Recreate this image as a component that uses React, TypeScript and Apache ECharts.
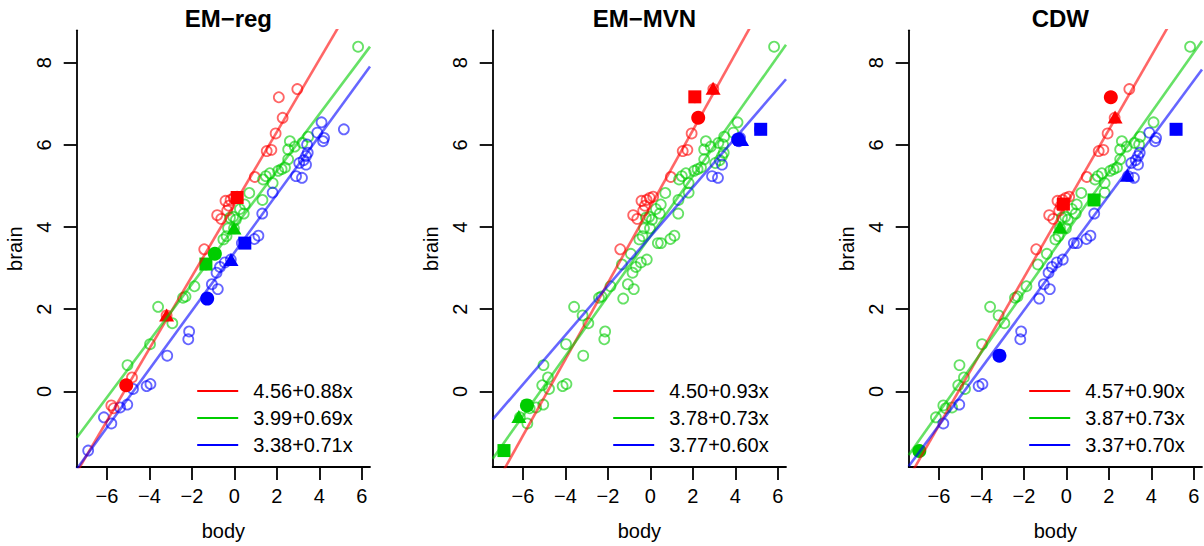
import React, { useEffect, useRef } from "react";
import * as echarts from "echarts";

// ---- data -----------------------------------------------------------
const bodyX = [
  -6.88, -6.14, -5.79, -5.79, -5.68, -5.38, -5.04, -5.09, -4.82, -4.77,
  -4.13, -3.95, -5.03, -3.16, -3.97, -2.17, -2.13, -2.92, -3.19, -3.59,
  -2.42, -2.3, -1.88,
  -1.28, -0.78, -1.06, -0.84, -0.68, -0.45, -1.34, -0.17, -0.92, -1.42, -0.37, -0.52, 0.35, 0.5, 0.94, 1.13,
  -0.81, -0.62, -0.42, -0.18, -0.03, 0.13, -0.26, -0.34,
  0.49, 0.26, 0.44, -0.06, 0.07, -0.21, -0.02, -0.3, 1.31, 1.8, 0.7, 1.32,
  1.35, 1.48, 1.67, 1.8, 2.06, 2.22, 2.38, 2.53, 2.53, 2.84, 3.2, 2.61, 3.47, 5.82,
  4.1, 5.15, 3.9, 4.22, 4.17, 3.42, 3.45, 3.37, 3.26, 3.05, 3.37, 2.9, 3.18,
  2.96, 2.09, 2.27, 1.94, 1.52, 1.74, 0.96,
];
const brainY = [
  -1.44, -0.63, -0.78, -0.34, -0.41, -0.39, -0.32, 0.15, 0.34, 0.06,
  0.13, 0.18, 0.64, 0.87, 1.15, 1.27, 1.46, 1.66, 1.85, 2.06,
  2.28, 2.31, 2.56,
  2.26, 2.49, 2.61, 2.89, 3.03, 3.14, 3.09, 3.21, 3.35, 3.46, 3.78, 3.7, 3.61, 3.61, 3.71, 3.79,
  4.29, 4.2, 4.64, 4.66, 4.71, 4.74, 4.52, 4.4,
  4.55, 4.44, 4.33, 4.25, 4.18, 4.23, 3.97, 3.97, 4.33, 4.84, 4.83, 4.66,
  5.16, 5.24, 5.31, 5.07, 5.37, 5.41, 5.45, 5.65, 5.89, 5.96, 6.05, 6.09, 6.2, 8.39,
  6.55, 6.38, 6.3, 6.17, 6.09, 6.01, 5.81, 5.73, 5.63, 5.56, 5.52, 5.24, 5.2,
  7.36, 7.16, 6.66, 6.28, 5.85, 5.88, 5.22,
];
// cluster of each point in each panel (r / g / b)
const groupEMreg = (
  "bbbrrbbrrb" + "bbgbgbbgrg" + "ggg" +
  "bbbbbbgbgrggbbbb" + "rrrrrrrr" + "ggggggggbbgg" +
  "gggggggggggggg" + "bbbbbbbbbbbbb" + "rrrrrrr"
).split("");
const groupEMMVN = (
  "gggggggggg" + "gggggggggg" + "ggg" +
  "gggggggggrgggggg" + "rrrrrrrr" + "gggggggggggg" +
  "gggggggggggggg" + "gbgbbgggggbbb" + "rrrrrrr"
).split("");
const groupCDW = (
  "ggbgggbggg" + "bbgbgbbggg" + "ggg" +
  "bbbbbbgbgrggbbbb" + "rrrrrrrr" + "ggggggggbggg" +
  "gggggggggggggg" + "gbbbbgbbbbbbb" + "rrrrrrr"
).split("");

// highlighted (filled) points: [x, y, group, shape]
const markersEMreg: [number, number, string, string][] = [
  [-3.19, 1.86, "r", "triangle"], [-0.02, 3.98, "g", "triangle"], [-0.16, 3.21, "b", "triangle"],
  [-5.09, 0.15, "r", "circle"], [-0.92, 3.35, "g", "circle"], [-1.28, 2.26, "b", "circle"],
  [0.13, 4.72, "r", "square"], [-1.34, 3.1, "g", "square"], [0.49, 3.61, "b", "square"],
];
const markersEMMVN: [number, number, string, string][] = [
  [2.95, 7.38, "r", "triangle"], [-6.19, -0.61, "g", "triangle"], [4.29, 6.13, "b", "triangle"],
  [2.25, 6.66, "r", "circle"], [-5.81, -0.34, "g", "circle"], [4.13, 6.13, "b", "circle"],
  [2.09, 7.17, "r", "square"], [-6.89, -1.44, "g", "square"], [5.19, 6.38, "b", "square"],
];
const markersCDW: [number, number, string, string][] = [
  [2.29, 6.68, "r", "triangle"], [-0.3, 4.0, "g", "triangle"], [2.87, 5.26, "b", "triangle"],
  [2.09, 7.16, "r", "circle"], [-6.92, -1.45, "g", "circle"], [-3.15, 0.87, "b", "circle"],
  [-0.14, 4.56, "r", "square"], [1.3, 4.66, "g", "square"], [5.16, 6.38, "b", "square"],
];

// regression lines (red, green, blue)
const interceptEMreg = [4.56, 3.99, 3.38];
const slopeEMreg = [0.88, 0.69, 0.71];
const interceptEMMVN = [4.5, 3.78, 3.77];
const slopeEMMVN = [0.93, 0.73, 0.6];
const interceptCDW = [4.57, 3.87, 3.37];
const slopeCDW = [0.9, 0.73, 0.7];

const panelTitles = ["EM\u2212reg", "EM\u2212MVN", "CDW"];
const xTicks = [-6, -4, -2, 0, 2, 4, 6];
const yTicks = [0, 2, 4, 6, 8];
const xLim = [-7.42, 6.38];
const yLim = [-1.84, 8.79];

// ---- styling ---------------------------------------------------------
const FONT = "'Liberation Sans', Arial, Helvetica, sans-serif";
const groupKeys = ["r", "g", "b"];
const solid: Record<string, string> = { r: "#FF0000", g: "#00CD00", b: "#0000FF" };
const openCol: Record<string, string> = {
  r: "rgba(255,0,0,0.75)",
  g: "rgba(0,205,0,0.75)",
  b: "rgba(0,0,255,0.75)",
};
const lineCol: Record<string, string> = {
  r: "rgba(255,0,0,0.6)",
  g: "rgba(0,205,0,0.6)",
  b: "rgba(0,0,255,0.6)",
};
const shapeSize: Record<string, any> = { circle: 14, square: 13, triangle: [15, 13] };
const shapeSymbol: Record<string, string> = { circle: "circle", square: "rect", triangle: "triangle" };

const PANEL_LEFT = [76.7, 492.7, 908.7];
const GRID_TOP = 30.3;
const GRID_W = 293.3;
const GRID_H = 439;

const fmt = (v: number) => (v < 0 ? "\u2212" + Math.abs(v) : String(v));

function buildOption() {
  const panels = [
    { groups: groupEMreg, markers: markersEMreg, a: interceptEMreg, b: slopeEMreg },
    { groups: groupEMMVN, markers: markersEMMVN, a: interceptEMMVN, b: slopeEMMVN },
    { groups: groupCDW, markers: markersCDW, a: interceptCDW, b: slopeCDW },
  ];
  const grid: any[] = [];
  const xAxis: any[] = [];
  const yAxis: any[] = [];
  const title: any[] = [];
  const legend: any[] = [];
  const series: any[] = [];

  const axisCommon = {
    axisLine: { show: true, onZero: false, lineStyle: { color: "#000", width: 1.8 } },
    splitLine: { show: false },
  };

  panels.forEach((p, i) => {
    grid.push({ left: PANEL_LEFT[i], top: GRID_TOP, width: GRID_W, height: GRID_H });
    xAxis.push({
      ...axisCommon,
      type: "value",
      gridIndex: i,
      min: xLim[0],
      max: xLim[1],
      name: "body",
      nameLocation: "middle",
      nameGap: 54,
      nameTextStyle: { fontSize: 20, color: "#000", fontFamily: FONT },
      axisTick: { show: true, length: 13, customValues: xTicks, lineStyle: { color: "#000", width: 1.8 } },
      axisLabel: { customValues: xTicks, fontSize: 20, color: "#000", fontFamily: FONT, margin: 19, formatter: fmt },
    });
    yAxis.push({
      ...axisCommon,
      type: "value",
      gridIndex: i,
      min: yLim[0],
      max: yLim[1],
      name: "brain",
      nameLocation: "middle",
      nameGap: 52,
      nameRotate: 90,
      nameTextStyle: { fontSize: 20, color: "#000", fontFamily: FONT },
      axisTick: { show: true, length: 13, customValues: yTicks, lineStyle: { color: "#000", width: 1.8 } },
      axisLabel: { customValues: yTicks, rotate: 90, fontSize: 20, color: "#000", fontFamily: FONT, margin: 23, formatter: fmt },
    });
    title.push({
      text: panelTitles[i],
      left: PANEL_LEFT[i] + GRID_W / 2,
      top: 1,
      textAlign: "center",
      textStyle: { fontSize: 24, fontWeight: "bold", color: "#000", fontFamily: FONT },
    });

    // open circles
    groupKeys.forEach((g) => {
      const data: number[][] = [];
      p.groups.forEach((gg, k) => {
        if (gg === g) data.push([bodyX[k], brainY[k]]);
      });
      series.push({
        type: "scatter",
        xAxisIndex: i,
        yAxisIndex: i,
        silent: true,
        symbol: "circle",
        symbolSize: 10,
        itemStyle: { color: "rgba(0,0,0,0)", borderColor: openCol[g], borderWidth: 1.8 },
        data,
      });
    });

    // filled markers
    series.push({
      type: "scatter",
      xAxisIndex: i,
      yAxisIndex: i,
      silent: true,
      data: p.markers.map((m) => ({
        value: [m[0], m[1]],
        symbol: shapeSymbol[m[3]],
        symbolSize: shapeSize[m[3]],
        itemStyle: { color: solid[m[2]], opacity: 1 },
      })),
    });

    // regression lines
    const names: string[] = [];
    groupKeys.forEach((g, j) => {
      const a = p.a[j];
      const b = p.b[j];
      const name = a.toFixed(2) + "+" + b.toFixed(2) + "x";
      names.push(name);
      series.push({
        type: "line",
        name,
        xAxisIndex: i,
        yAxisIndex: i,
        silent: true,
        symbol: "none",
        clip: true,
        color: lineCol[g],
        lineStyle: { color: lineCol[g], width: 2.6 },
        data: [
          [xLim[0], a + b * xLim[0]],
          [xLim[1], a + b * xLim[1]],
        ],
      });
    });

    legend.push({
      left: PANEL_LEFT[i] + 115.5,
      top: 376,
      orient: "vertical",
      selectedMode: false,
      itemWidth: 41,
      itemHeight: 2.2,
      itemGap: 7,
      textStyle: { fontSize: 20, color: "#000", fontFamily: FONT, padding: [0, 0, 0, 10] },
      data: names.map((n, j) => ({
        name: n,
        icon: "rect",
        itemStyle: { color: solid[groupKeys[j]], borderWidth: 0 },
      })),
    });
  });

  return { animation: false, backgroundColor: "#fff", grid, xAxis, yAxis, title, legend, series };
}

export default function App() {
  const ref = useRef<HTMLDivElement>(null);
  useEffect(() => {
    if (!ref.current) return;
    const chart = echarts.init(ref.current, null, { renderer: "svg" });
    chart.setOption(buildOption() as any);
    return () => chart.dispose();
  }, []);
  return (
    <div
      ref={ref}
      style={{ position: "absolute", left: 0, top: 0, width: 1204, height: 546, background: "#fff" }}
    />
  );
}
